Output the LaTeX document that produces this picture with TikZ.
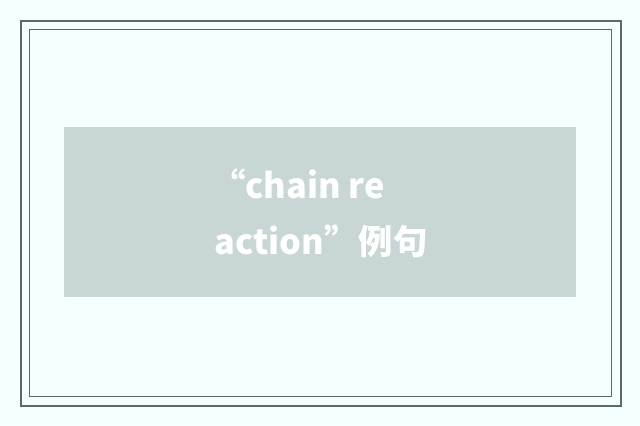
\documentclass[tikz,border=0pt]{standalone}
\usepackage{fontspec}
\setmainfont{Noto Sans CJK SC}
\definecolor{pagebg}{HTML}{F4FFFF}
\definecolor{framecol}{HTML}{5B6B6A}
\definecolor{boxgray}{HTML}{C8D6D5}
\tikzset{
  frame line/.style={draw=framecol},
  title text/.style={text=white, font=\fontsize{34.5}{56}\selectfont\bfseries, inner sep=0pt, anchor=base}
}
\begin{document}
\begin{tikzpicture}[x=1bp,y=-1bp]
\fill[pagebg] (0,0) rectangle (640,425);
\useasboundingbox (0,0) rectangle (640,425);

\draw[frame line, line width=2.5bp] (21,21) rectangle (621,406);
\draw[frame line, line width=1.5bp] (29.5,29.5) rectangle (611.5,396.5);

\fill[boxgray] (64,127) rectangle (576,297);

\node[title text] (line1) at (298,198) {“chain re};
\node[title text] (line2) at (321,254) {action”例句};
\end{tikzpicture}
\end{document}
